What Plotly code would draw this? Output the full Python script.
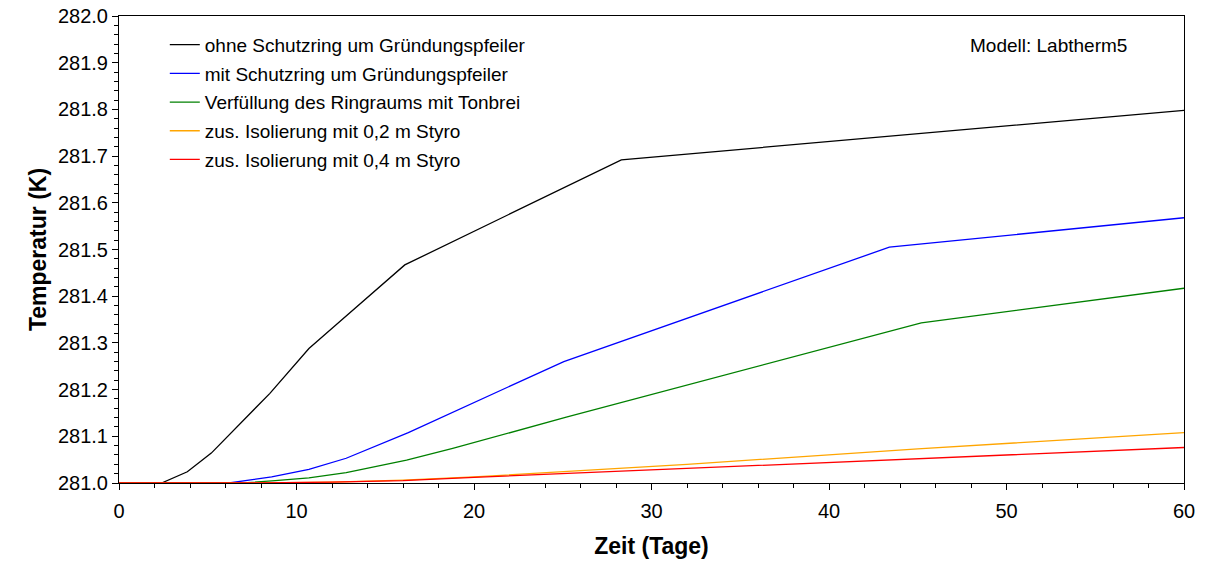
import plotly.graph_objects as go

# Data
x_ohne = [0, 2.4, 3.85, 5.2, 8.5, 10.7, 12.2, 16.1, 28.3, 60]
y_ohne = [281.0, 281.0, 281.024, 281.064, 281.192, 281.288, 281.338, 281.467, 281.692, 281.798]

x_mit = [0, 6.2, 8.6, 10.7, 12.8, 16.3, 25.06, 43.4, 60]
y_mit = [281.0, 281.0, 281.013, 281.029, 281.053, 281.108, 281.26, 281.505, 281.568]

x_ton = [0, 7, 8.8, 10.7, 12.8, 16.2, 18.8, 25.2, 45.2, 60]
y_ton = [281.0, 281.0, 281.005, 281.011, 281.022, 281.049, 281.074, 281.141, 281.343, 281.417]

x_s02 = [0, 8, 12, 16, 20, 25, 32, 45, 60]
y_s02 = [281.0, 281.0, 281.002, 281.006, 281.013, 281.024, 281.040, 281.073, 281.108]

x_s04 = [0, 8, 12, 16, 20, 25, 32, 45, 60]
y_s04 = [281.0, 281.0, 281.002, 281.005, 281.012, 281.020, 281.031, 281.053, 281.076]

names = [
    "ohne Schutzring um Gründungspfeiler",
    "mit Schutzring um Gründungspfeiler",
    "Verfüllung des Ringraums mit Tonbrei",
    "zus. Isolierung mit 0,2 m Styro",
    "zus. Isolierung mit 0,4 m Styro",
]
colors = ["#000000", "#0000FF", "#008000", "#FFA500", "#FF0000"]
series = [(x_ohne, y_ohne), (x_mit, y_mit), (x_ton, y_ton), (x_s02, y_s02), (x_s04, y_s04)]

FONT = "Arial, Liberation Sans, sans-serif"

fig = go.Figure()
for i, ((xs, ys), n, c) in enumerate(zip(series, names, colors)):
    fig.add_trace(go.Scatter(x=xs, y=ys, mode="lines", name=n,
                             line=dict(color=c, width=1.3),
                             legendgroup=f"g{i}"))

fig.update_layout(
    width=1206, height=563,
    margin=dict(l=119, r=22, t=16, b=80),
    paper_bgcolor="white", plot_bgcolor="white",
    font=dict(family=FONT, size=19, color="black"),
    showlegend=True,
    legend=dict(x=0.043, y=0.979, xanchor="left", yanchor="top",
                bgcolor="rgba(0,0,0,0)", font=dict(size=19, family=FONT),
                tracegroupgap=1, itemwidth=30),
    xaxis=dict(range=[0, 60], tickvals=[0, 10, 20, 30, 40, 50, 60], automargin=False,
               showgrid=False, zeroline=False, showline=True, linecolor="black",
               linewidth=1, mirror=True, ticks="outside", ticklen=6, tickcolor="black",
               minor=dict(dtick=2, ticks="outside", ticklen=4, tickcolor="black"),
               tickfont=dict(size=20), ticklabelstandoff=4,
               title=dict(text="<b>Zeit (Tage)</b>", font=dict(size=23), standoff=16)),
    yaxis=dict(range=[281.0, 282.0], dtick=0.1, tickformat=".1f", automargin=False,
               showgrid=False, zeroline=False, showline=True, linecolor="black",
               linewidth=1, mirror=True, ticks="outside", ticklen=6, tickcolor="black",
               minor=dict(dtick=0.02, ticks="outside", ticklen=4, tickcolor="black"),
               tickfont=dict(size=20),
               title=dict(text="<b>Temperatur (K)</b>", font=dict(size=23), standoff=4)),
    annotations=[dict(text="Modell: Labtherm5", x=0.948, y=0.936, xref="paper", yref="paper",
                      xanchor="right", yanchor="middle", showarrow=False,
                      font=dict(size=19, family=FONT))],
)

fig.write_html("out.html")
